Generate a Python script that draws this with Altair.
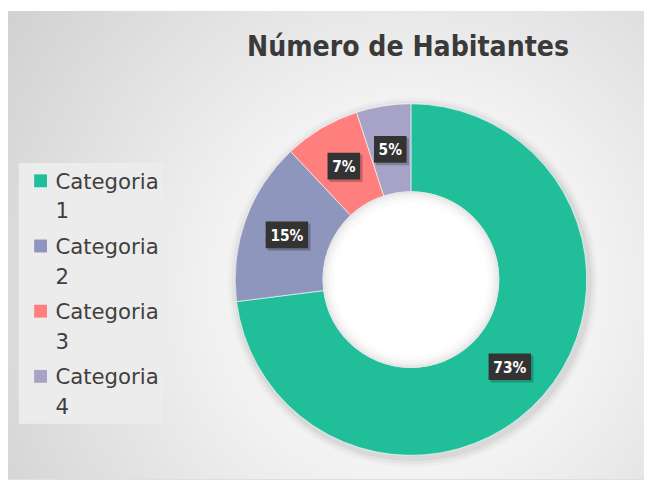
import altair as alt
import pandas as pd

# ---- data ----
categorias = ["Categoria 1", "Categoria 2", "Categoria 3", "Categoria 4"]
valores = [73, 15, 7, 5]
rotulos = ["73%", "15%", "7%", "5%"]
cores = ["#20BF9A", "#8E96BD", "#FF7F7F", "#A6A3C6"]
titulo = "Número de Habitantes"

W, H = 644, 474
CX, CY = 408, 272
R_OUT, R_IN = 178, 89
R_LAB = 133.5

df = pd.DataFrame({
    "categoria": categorias,
    "valor": valores,
    "rotulo": rotulos,
    "idx": list(range(len(categorias))),
})

one = alt.Data(values=[{"k": 1}])


def circ_size(r):
    # Vega symbol size is the area of the bounding square of the circle
    return (2 * r) ** 2


# background panel with radial gradient
bg = alt.Chart(one).mark_rect(
    fill=alt.RadialGradient(
        gradient="radial",
        x1=0.63, y1=0.57, r1=0.0,
        x2=0.63, y2=0.57, r2=0.75,
        stops=[
            alt.GradientStop(color="#ffffff", offset=0.0),
            alt.GradientStop(color="#f2f2f2", offset=0.4),
            alt.GradientStop(color="#d2d2d2", offset=1.0),
        ],
    )
).encode(x=alt.value(0), x2=alt.value(W), y=alt.value(0), y2=alt.value(H))

# legend box
leg_box = alt.Chart(one).mark_rect(fill="#ececec").encode(
    x=alt.value(11), x2=alt.value(157), y=alt.value(154), y2=alt.value(418)
)

# donut shadow (soft halo)
shadow_layers = []
for rr, op in [(187, 0.025), (184, 0.035), (181, 0.05)]:
    shadow_layers.append(
        alt.Chart(one).mark_circle(
            size=circ_size(rr), color="#000000", opacity=op
        ).encode(x=alt.value(CX + 2), y=alt.value(CY + 3))
    )

donut = alt.Chart(df).mark_arc(
    x=CX, y=CY, radius=R_OUT, innerRadius=R_IN, stroke="#ffffff", strokeWidth=0.6
).encode(
    theta=alt.Theta("valor:Q", stack=True),
    color=alt.Color("categoria:N", scale=alt.Scale(domain=categorias, range=cores), legend=None),
    order=alt.Order("idx:Q"),
)

# inner hole with soft shading
hole_layers = []
for rr, col in [(R_IN + 0.5, "#e6e6e6"), (R_IN - 1.5, "#eeeeee"), (R_IN - 4, "#f5f5f5"), (R_IN - 7, "#fbfbfb"), (R_IN - 11, "#ffffff")]:
    hole_layers.append(
        alt.Chart(one).mark_circle(size=circ_size(rr), color=col, opacity=1)
        .encode(x=alt.value(CX), y=alt.value(CY))
    )

lab_base = alt.Chart(df).transform_window(
    cum="sum(valor)", sort=[alt.SortField("idx")], frame=[None, 0]
).transform_joinaggregate(
    total="sum(valor)"
).transform_calculate(
    ang="2*PI*(datum.cum - datum.valor/2)/datum.total",
    lx=f"{CX} + {R_LAB}*sin(datum.ang)",
    ly=f"{CY} - {R_LAB}*cos(datum.ang)",
    hw="6.5 + 5*length(datum.rotulo)",
    bx1="datum.lx - datum.hw",
    bx2="datum.lx + datum.hw",
    by1="datum.ly - 13.5",
    by2="datum.ly + 13.5",
    sx1="datum.bx1 + 2",
    sx2="datum.bx2 + 2.5",
    sy1="datum.by1 + 2",
    sy2="datum.by2 + 2.5",
)

box_shadow = lab_base.mark_rect(color="#000000", opacity=0.22).encode(
    x=alt.X("sx1:Q", scale=None), x2="sx2:Q",
    y=alt.Y("sy1:Q", scale=None), y2="sy2:Q",
)
boxes = lab_base.mark_rect(color="#333333").encode(
    x=alt.X("bx1:Q", scale=None), x2="bx2:Q",
    y=alt.Y("by1:Q", scale=None), y2="by2:Q",
)
labels = lab_base.mark_text(
    color="#ffffff", fontSize=15.5, fontWeight="bold", font="DejaVu Sans Condensed, DejaVu Sans, sans-serif",
    align="center", baseline="middle", dy=1,
).encode(
    x=alt.X("lx:Q", scale=None), y=alt.Y("ly:Q", scale=None), text="rotulo:N"
)

# title
title = alt.Chart(one).mark_text(
    text=titulo, align="center", baseline="alphabetic",
    fontSize=28.5, fontWeight="bold", color="#3a3a3a",
    font="DejaVu Sans Condensed, DejaVu Sans, sans-serif",
).encode(x=alt.value(CX - 3), y=alt.value(46))

# manual legend
leg_base = alt.Chart(df).transform_calculate(
    sy="172 + 66*datum.idx",
    ty="180 + 66*datum.idx",
)
swatches = leg_base.mark_square(size=170, opacity=1).encode(
    x=alt.value(33),
    y=alt.Y("sy:Q", scale=None),
    color=alt.Color("categoria:N", scale=alt.Scale(domain=categorias, range=cores), legend=None),
)
leg_text = leg_base.mark_text(
    align="left", baseline="alphabetic", fontSize=21.5, color="#404040",
    lineBreak=" ", lineHeight=30, font="DejaVu Sans, sans-serif",
).encode(
    x=alt.value(48), y=alt.Y("ty:Q", scale=None), text="categoria:N"
)

chart = alt.layer(
    bg, leg_box, *shadow_layers, donut, *hole_layers, box_shadow, boxes, labels, title, swatches, leg_text
).properties(
    width=W, height=H, padding=0, autosize=alt.AutoSizeParams(type="none")
).configure_view(stroke=None).configure(background="#ffffff")

chart.save("out.html", embed_options={"renderer": "svg", "actions": False})
